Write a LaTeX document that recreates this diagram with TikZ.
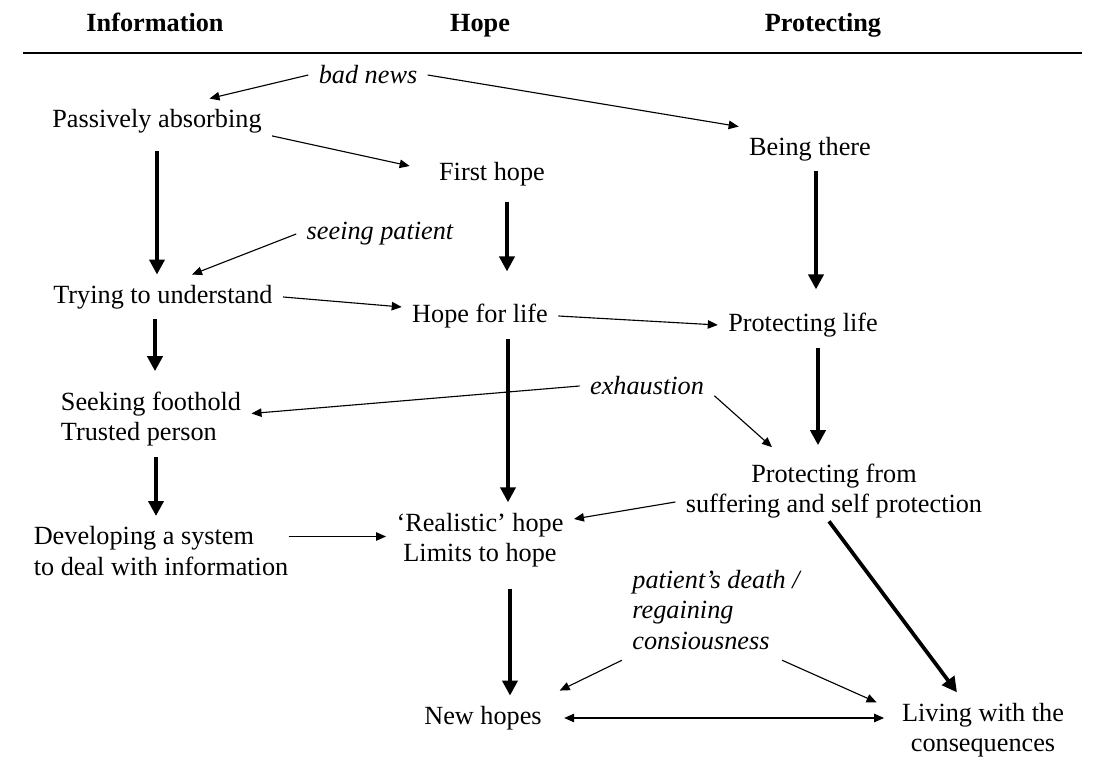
\documentclass[tikz,border=0pt]{standalone}
\usepackage{fontspec}
\setmainfont{Liberation Serif}
\usetikzlibrary{arrows.meta}

\tikzset{
  stage/.style={align=center, inner sep=4pt, font=\fontsize{10.5}{12.2}\selectfont},
  cause/.style={stage, font=\fontsize{10.5}{12.2}\selectfont\itshape},
  colhead/.style={anchor=base, font=\fontsize{10.5}{12.2}\selectfont\bfseries},
  thinarrow/.style={line width=0.45pt, -{Triangle[length=4pt,width=3.4pt]}},
  boldarrow/.style={line width=1.5pt, -{Triangle[length=6pt,width=6pt]}},
}

\begin{document}
\begin{tikzpicture}[x=0.4pt,y=-0.4pt]
    \useasboundingbox (0,0) rectangle (1094,757);
    % column headings
    \node[colhead] (infohd) at (155,32) {Information};
    \node[colhead] (hopehd) at (480,32) {Hope};
    \node[colhead] (prothd) at (823,32) {Protecting};
    \draw[line width=0.6pt] (23,53) -- (1082,53);
    %
    \node[cause] (badnews) at (368,75) {bad news};
    \node[stage] (passive) at (157,121) {Passively absorbing};
    \node[stage] (first) at (492,174) {First hope};
    \node[stage] (there) at (810,149) {Being there};
    \node[cause] (seeing) at (380,234) {seeing patient};
    \node[stage] (trying) at (163,297) {Trying to understand};
    \node[stage] (hlife) at (480,316) {Hope for life};
    \node[stage] (plife) at (803,325) {Protecting life};
    \node[cause] (exhaust) at (647,386) {exhaustion};
    \node[stage, align=left] (foothold) at (151,419) {Seeking foothold\\Trusted person};
    \node[stage, align=left] (system) at (161,551) {Developing a system\\to deal with information};
    \node[stage] (realistic) at (480,540) {`Realistic' hope\\Limits to hope};
    \node[stage] (psuffer) at (834,491) {Protecting from\\suffering and self protection};
    \node[cause, align=left] (death) at (716,610) {patient's death /\\regaining\\consiousness};
    \node[stage] (newhopes) at (483,718) {New hopes};
    \node[stage] (living) at (983,730) {Living with the\\consequences};
    %
    \draw[thinarrow] (badnews.west) -- ([xshift=21pt]passive.north);
    \draw[thinarrow] (badnews.east) -- (there.north west);
    \draw[thinarrow] ([yshift=3pt]passive.south east) -- ([xshift=-7.6pt,yshift=3.2pt]first.west);
    \draw[thinarrow] (seeing.west) -- ([xshift=11.6pt]trying.north);
    \draw[thinarrow] (trying.east) -- ([yshift=3.6pt]hlife.west);
    \draw[thinarrow] (hlife.east) -- (plife.west);
    \draw[thinarrow] (exhaust.west) -- ([yshift=2.2pt]foothold.east);
    \draw[thinarrow] ([yshift=4pt]exhaust.south east) -- ([xshift=-24.8pt,yshift=2.4pt]psuffer.north);
    \draw[thinarrow] ([xshift=-4pt,yshift=5.8pt]system.east) -- ([yshift=5.8pt]system.east -| realistic.west);
    \draw[thinarrow] ([yshift=-4.4pt]psuffer.west) -- ([yshift=8.4pt]realistic.east);
    \draw[thinarrow] (death.south west) -- ([xshift=3pt,yshift=2pt]newhopes.north east);
    \draw[thinarrow] ([xshift=-11.2pt]death.south east) -- ([xshift=-6pt,yshift=-4pt]living.north west);
    \draw[thinarrow, {Triangle[length=4pt,width=3.4pt]}-{Triangle[length=4pt,width=3.4pt]}, shorten <=4.8pt, shorten >=3pt]
        (newhopes.east) -- (newhopes.east -| living.west);
    %
    \draw[boldarrow, shorten <=3pt] (passive.south) -- (passive.south |- trying.north);
    \draw[boldarrow, shorten >=4pt] ([xshift=-3.2pt]trying.south) -- ([xshift=-3.2pt]trying.south |- foothold.north);
    \draw[boldarrow] ([xshift=2pt]foothold.south) -- ([xshift=2pt]foothold.south |- system.north);
    \draw[boldarrow, shorten <=2.4pt, shorten >=8.8pt] ([xshift=6pt]first.south) -- ([xshift=6pt]first.south |- hlife.north);
    \draw[boldarrow] ([xshift=11.2pt]hlife.south) -- ([xshift=11.2pt]hlife.south |- realistic.north);
    \draw[boldarrow, shorten <=4.4pt] ([xshift=12pt]realistic.south) -- ([xshift=12pt]realistic.south |- newhopes.north);
    \draw[boldarrow, shorten >=5.2pt] ([xshift=2.4pt]there.south) -- ([xshift=2.4pt]there.south |- plife.north);
    \draw[boldarrow, shorten >=3.2pt] ([xshift=6pt]plife.south) -- ([xshift=6pt]plife.south |- psuffer.north);
    \draw[boldarrow] ([xshift=-2pt,yshift=3pt]psuffer.south) -- ([xshift=-10.4pt]living.north);
\end{tikzpicture}
\end{document}
